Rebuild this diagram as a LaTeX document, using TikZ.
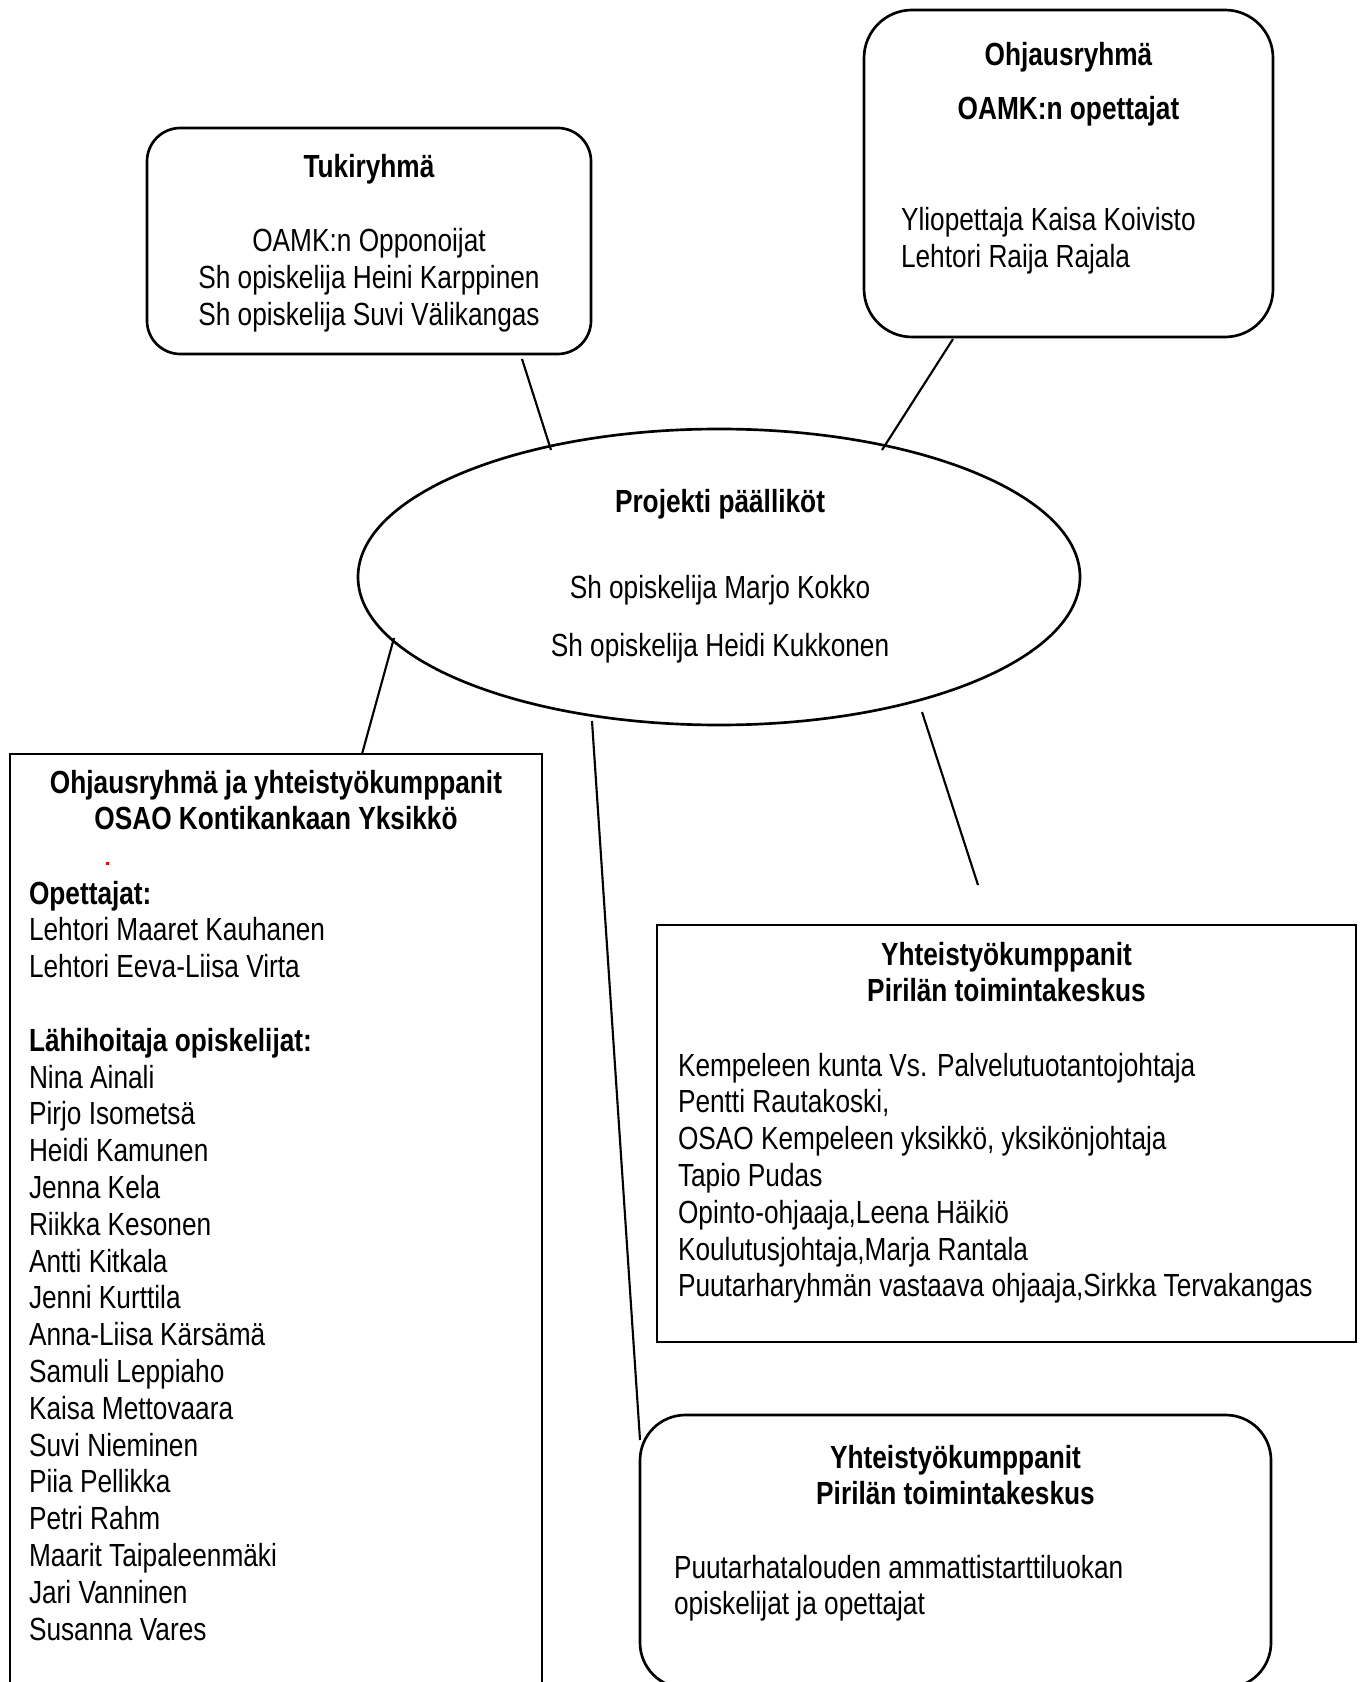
\documentclass[tikz,border=0pt]{standalone}
\usepackage{fontspec}
\setmainfont{Liberation Sans}[FakeStretch=0.82]
\usetikzlibrary{shapes.geometric}
\begin{document}
\begin{tikzpicture}[x=0.375pt, y=-0.375pt,
  box/.style={draw, line width=1pt, inner sep=0pt, outer sep=0pt},
  conn/.style={line width=0.8pt},
  txt/.style={inner sep=0pt, outer sep=0pt, font=\fontsize{12}{13.8}\selectfont, yshift=9.66pt},
  ctxt/.style={txt, anchor=north, align=center},
  ltxt/.style={txt, anchor=north west, align=left}]
\useasboundingbox (0,0) rectangle (1363,1682);
\clip (0,0) rectangle (1363,1682);

% boxes
\node[box, rounded corners=12.5pt, minimum width=166.5pt, minimum height=84.75pt] (tuki) at (369,241) {};
\node[box, rounded corners=18pt, minimum width=153.375pt, minimum height=122.625pt] (ohj) at (1068.5,173.5) {};
\node[box, ellipse, minimum width=270.75pt, minimum height=111pt] (ell) at (719,577) {};
\node[box, minimum width=199.5pt, minimum height=362.25pt] (left) at (276,1237) {};
\node[box, minimum width=262.125pt, minimum height=156.375pt] (right) at (1006.5,1133.5) {};
\node[box, rounded corners=17pt, minimum width=236.625pt, minimum height=102.375pt] (bot) at (955.5,1551.5) {};

% texts
\node[ctxt] (tukit) at (369,178) {\strut\textbf{Tukiryhmä}\\\mbox{}\\OAMK:n Opponoijat\\Sh opiskelija Heini Karppinen\\Sh opiskelija Suvi Välikangas};
\node[ctxt] (ohjt1) at (1068.5,66) {\strut\textbf{Ohjausryhmä}\\[6.45pt]\textbf{OAMK:n opettajat}};
\node[ltxt] (ohjt2) at (901,231) {\strut Yliopettaja Kaisa Koivisto\\Lehtori Raija Rajala};
\node[ctxt] (ellt) at (720,512) {\strut\textbf{Projekti päälliköt}\\[18.8pt]Sh opiskelija Marjo Kokko\\[7.6pt]Sh opiskelija Heidi Kukkonen};
\node[ctxt] (leftt1) at (276,793) {\strut\textbf{Ohjausryhmä ja yhteistyökumppanit}\\\textbf{OSAO Kontikankaan Yksikkö}};
\fill[red] (105.5,861.5) rectangle (108.5,864.5);
\node[ltxt] (leftt2) at (29,904) {\strut\textbf{Opettajat:}\\Lehtori Maaret Kauhanen\\Lehtori Eeva-Liisa Virta\\\mbox{}\\\textbf{Lähihoitaja opiskelijat:}\\Nina Ainali\\Pirjo Isometsä\\Heidi Kamunen\\Jenna Kela\\Riikka Kesonen\\Antti Kitkala\\Jenni Kurttila\\Anna-Liisa Kärsämä\\Samuli Leppiaho\\Kaisa Mettovaara\\Suvi Nieminen\\Piia Pellikka\\Petri Rahm\\Maarit Taipaleenmäki\\Jari Vanninen\\Susanna Vares};
\node[ctxt] (rightt1) at (1006.5,965) {\strut\textbf{Yhteistyökumppanit}\\\textbf{Pirilän toimintakeskus}};
\node[ltxt] (rightt2) at (678,1076) {\strut Kempeleen kunta Vs. Palvelutuotantojohtaja\\Pentti Rautakoski,\\OSAO Kempeleen yksikkö, yksikönjohtaja\\Tapio Pudas\\Opinto-ohjaaja,Leena Häikiö\\Koulutusjohtaja,Marja Rantala\\Puutarharyhmän vastaava ohjaaja,Sirkka Tervakangas};
\node[ctxt] (bott1) at (955.5,1468) {\strut\textbf{Yhteistyökumppanit}\\\textbf{Pirilän toimintakeskus}};
\node[ltxt] (bott2) at (674,1578) {\strut Puutarhatalouden ammattistarttiluokan\\opiskelijat ja opettajat};

% connectors
\coordinate (a1) at (522,359); \coordinate (a2) at (551,450);
\coordinate (b1) at (953,339); \coordinate (b2) at (882,450);
\coordinate (c1) at (394,638); \coordinate (c2) at (362,754);
\coordinate (d1) at (592,721); \coordinate (d2) at (640,1440);
\coordinate (e1) at (922,712); \coordinate (e2) at (978,885);
\draw[conn] (a1) -- (a2);
\draw[conn] (b1) -- (b2);
\draw[conn] (c1) -- (c2);
\draw[conn] (d1) -- (d2);
\draw[conn] (e1) -- (e2);
\end{tikzpicture}
\end{document}
